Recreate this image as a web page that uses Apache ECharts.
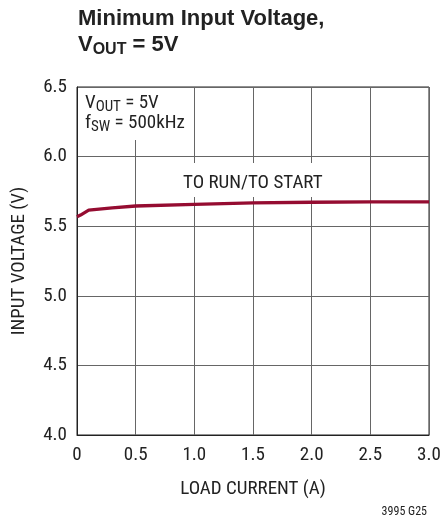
<!DOCTYPE html>
<html>
<head>
<meta charset="utf-8">
<script src="https://cdn.jsdelivr.net/npm/echarts@6/dist/echarts.min.js"></script>
<style>
  html, body { margin: 0; padding: 0; background: #fff; }
  #chart { width: 444px; height: 516px; }
</style>
</head>
<body>
<div id="chart"></div>
<script>
  // load current (A) and minimum input voltage (V)
  var loadCurrent = [0, 0.03, 0.1, 0.3, 0.5, 1.0, 1.5, 2.0, 2.5, 3.0];
  var inputVoltage = [5.568, 5.58, 5.616, 5.632, 5.645, 5.657, 5.667, 5.672, 5.675, 5.675];
  var yTicks = [4.0, 4.5, 5.0, 5.5, 6.0, 6.5];
  var xTicks = [0, 0.5, 1.0, 1.5, 2.0, 2.5, 3.0];

  var FONT = '"Roboto Condensed", "Liberation Sans", Arial, sans-serif';
  var TITLE_FONT = '"Liberation Sans", Arial, sans-serif';
  var TEXT = '#222';
  var CURVE = '#950c31';

  var points = loadCurrent.map(function (x, i) { return [x, inputVoltage[i]]; });

  var chart = echarts.init(document.getElementById('chart'));
  var option = {
    animation: false,
    grid: {
      left: 77, right: 15, top: 87, bottom: 81,
      show: true, borderColor: '#222', borderWidth: 1
    },
    xAxis: {
      type: 'value',
      min: xTicks[0], max: xTicks[xTicks.length - 1], interval: 0.5,
      name: 'LOAD CURRENT (A)',
      nameLocation: 'middle',
      nameGap: 45,
      nameTextStyle: { fontFamily: FONT, fontSize: 19, color: TEXT },
      axisLine: { lineStyle: { color: '#222', width: 1 } },
      axisTick: { show: false },
      axisLabel: {
        margin: 11, fontFamily: FONT, fontSize: 19, color: TEXT,
        formatter: function (v) { return v === 0 ? '0' : v.toFixed(1); }
      },
      splitLine: { show: true, lineStyle: { color: '#666', width: 1 } }
    },
    yAxis: {
      type: 'value',
      min: yTicks[0], max: yTicks[yTicks.length - 1], interval: 0.5,
      name: 'INPUT VOLTAGE (V)',
      nameLocation: 'middle',
      nameGap: 48,
      nameTextStyle: { fontFamily: FONT, fontSize: 19, color: TEXT },
      axisLine: { show: true, lineStyle: { color: '#222', width: 1 } },
      axisTick: { show: false },
      axisLabel: {
        margin: 10, fontFamily: FONT, fontSize: 19, color: TEXT,
        formatter: function (v) { return v.toFixed(1); }
      },
      splitLine: { show: true, lineStyle: { color: '#666', width: 1 } }
    },
    series: [{
      type: 'line',
      data: points,
      symbol: 'none',
      smooth: false,
      lineStyle: { color: CURVE, width: 3.3 },
      z: 3
    }],
    graphic: [
      {
        type: 'text', left: 78, top: 8, z: 100,
        style: {
          text: 'Minimum Input Voltage,',
          font: 'bold 22px ' + TITLE_FONT,
          fill: '#222'
        }
      },
      {
        type: 'text', left: 78, top: 34, z: 100,
        style: {
          text: 'V{sub|OUT} = 5V',
          font: 'bold 22px ' + TITLE_FONT,
          fill: '#222',
          rich: {
            sub: { fontFamily: TITLE_FONT, fontWeight: 'bold', fontSize: 16, padding: [9, 0, 0, 0], fill: '#222' }
          }
        }
      },
      {
        // annotation box, white background hides the gridline behind it
        type: 'rect', z: 90,
        shape: { x: 79, y: 88, width: 112, height: 52 },
        style: { fill: '#fff' }
      },
      {
        type: 'text', left: 85, top: 94, z: 100,
        style: {
          text: 'V{sub|OUT} = 5V',
          font: '19px ' + FONT, fill: TEXT,
          rich: { sub: { fontFamily: FONT, fontSize: 15, padding: [8, 0, 0, 0], fill: TEXT } }
        }
      },
      {
        type: 'text', left: 85, top: 114, z: 100,
        style: {
          text: 'f{sub|SW} = 500kHz',
          font: '19px ' + FONT, fill: TEXT,
          rich: { sub: { fontFamily: FONT, fontSize: 15, padding: [8, 0, 0, 0], fill: TEXT } }
        }
      },
      {
        type: 'rect', z: 90,
        shape: { x: 180, y: 163, width: 146, height: 34 },
        style: { fill: '#fff' }
      },
      {
        type: 'text', left: 183, top: 174, z: 100,
        style: { text: 'TO RUN/TO START', font: '19px ' + FONT, fill: TEXT }
      },
      {
        type: 'text', right: 17, top: 506, z: 100,
        style: { text: '3995 G25', font: '12px ' + FONT, fill: TEXT }
      }
    ]
  };
  chart.setOption(option);
</script>
</body>
</html>
